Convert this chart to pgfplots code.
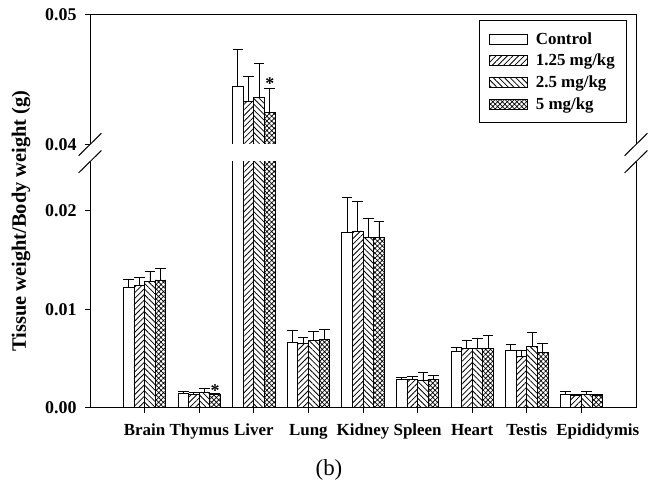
\documentclass[border=0pt]{standalone}
\usepackage{pgfplots}
\pgfplotsset{compat=1.18}
\usepackage{pgfplotstable}
\usepackage{fontspec}
\setmainfont{Liberation Serif}
\usetikzlibrary{patterns.meta}

\pgfplotstableread{
x  c       ce      a       ae      b       be      d       de
1  0.01220 0.00088 0.01240 0.00085 0.01280 0.00109 0.01298 0.00119
2  0.00146 0.00024 0.00136 0.00020 0.00160 0.00037 0.00136 0.00014
3  0.04445 0.00287 0.04335 0.00194 0.04360 0.00269 0.04248 0.00184
4  0.00660 0.00127 0.00650 0.00065 0.00680 0.00092 0.00691 0.00106
5  0.01778 0.00360 0.01796 0.00304 0.01728 0.00197 0.01728 0.00166
6  0.00292 0.00017 0.00288 0.00027 0.00282 0.00081 0.00288 0.00044
7  0.00569 0.00045 0.00604 0.00077 0.00604 0.00101 0.00604 0.00128
8  0.00586 0.00061 0.00525 0.00061 0.00620 0.00146 0.00563 0.00091
9  0.00136 0.00027 0.00126 0.00014 0.00139 0.00024 0.00122 0.00014
}\data

\pgfplotsset{
  area legend/.style={legend image code/.code={\draw[##1] (0bp,-5bp) rectangle (38bp,5bp); \path (44bp,0bp);}},
  mybar/.style={ybar, bar width=0.195, bar shift=0, draw=black, line width=0.8bp, area legend,
    /pgfplots/error bars/y dir=plus,
    /pgfplots/error bars/y explicit,
    /pgfplots/error bars/error bar style={line width=0.8bp, black, solid},
    /pgfplots/error bars/error mark options={rotate=90, mark size=5.3bp, line width=0.8bp, black}},
  common/.style={
    scale only axis, width=546bp,
    xmin=0, xmax=10,
    axis line style={draw=none},
    clip mode=individual,
    scaled y ticks=false,
    tick style={black, line width=1bp},
    major tick length=5bp,
    tick align=outside,
    ytick pos=left, xtick pos=bottom,
    ticklabel style={font=\fontsize{17}{20}\selectfont\bfseries},
    yticklabel style={font=\fontsize{18}{20}\selectfont\bfseries, xshift=-5bp},
  },
  pC/.style={mybar, fill=white},
  pA/.style={mybar, pattern={Lines[angle=45, distance=4bp, line width=0.8bp]}},
  pB/.style={mybar, pattern={Lines[angle=-45, distance=4bp, line width=0.8bp]}},
  pD/.style={mybar, pattern={Hatch[angle=45, distance=3.4bp, line width=0.7bp]}},
}

\begin{document}
\begin{tikzpicture}
\path[use as bounding box] (0,0) rectangle (649bp,484bp);

% lower axis
\begin{axis}[common,
  at={(90bp,76.3bp)}, anchor=south west,
  height=246bp,
  ymin=0, ymax=0.025,
  ytick={0,0.01,0.02}, yticklabels={0.00,0.01,0.02},
  xtick={1,...,9},
  xticklabels={Brain,Thymus,Liver,Lung,Kidney,Spleen,Heart,Testis,{\makebox[0pt][l]{\hspace{-25bp}Epididymis}}},
  xticklabel style={yshift=-8bp},
  after end axis/.code={
    \draw[line width=1bp] (rel axis cs:0,1) -- (rel axis cs:0,0) -- (rel axis cs:1,0) -- (rel axis cs:1,1);
    \draw[line width=1bp] ([shift={(-11.4bp,-11.2bp)}]rel axis cs:0,1) -- ([shift={(11.4bp,11.2bp)}]rel axis cs:0,1);
    \draw[line width=1bp] ([shift={(-11.4bp,-11.2bp)}]rel axis cs:1,1) -- ([shift={(11.4bp,11.2bp)}]rel axis cs:1,1);
  },
]
\addplot[pC] table[x expr=\thisrow{x}-0.2925, y=c, y error=ce]{\data};
\addplot[pA] table[x expr=\thisrow{x}-0.0975, y=a, y error=ae]{\data};
\addplot[pB] table[x expr=\thisrow{x}+0.0975, y=b, y error=be]{\data};
\addplot[pD] table[x expr=\thisrow{x}+0.2925, y=d, y error=de]{\data};
\addplot[draw=none, mark=none, nodes near coords={*},
  every node near coord/.append style={anchor=center, font=\fontsize{18}{20}\selectfont\bfseries}]
  coordinates {(2.2925,0.0017)};
\end{axis}

% upper axis
\begin{axis}[common,
  at={(90bp,339.5bp)}, anchor=south west,
  height=129.5bp,
  ymin=0.04, ymax=0.05,
  ytick={0.04,0.05}, yticklabels={0.04,0.05},
  xtick=\empty,
  restrict x to domain=2.5:3.5,
  legend style={at={(0.984,0.961)}, anchor=north east, draw=black, line width=0.8bp,
    font=\fontsize{17}{20}\selectfont\bfseries, row sep=4.5bp, inner xsep=10bp, inner ysep=10bp},
  legend cell align=left,
  after end axis/.code={
    \fill[white] ([yshift=-3bp]rel axis cs:0.05,0) rectangle ([yshift=0.45bp]rel axis cs:0.95,0);
    \draw[line width=1bp] (rel axis cs:0,0) -- (rel axis cs:0,1) -- (rel axis cs:1,1) -- (rel axis cs:1,0);
    \draw[line width=1bp] ([shift={(-11.4bp,-11.2bp)}]rel axis cs:0,0) -- ([shift={(11.4bp,11.2bp)}]rel axis cs:0,0);
    \draw[line width=1bp] ([shift={(-11.4bp,-11.2bp)}]rel axis cs:1,0) -- ([shift={(11.4bp,11.2bp)}]rel axis cs:1,0);
  },
]
\addplot[pC] table[x expr=\thisrow{x}-0.2925, y=c, y error=ce]{\data};
\addlegendentry{Control}
\addplot[pA] table[x expr=\thisrow{x}-0.0975, y=a, y error=ae]{\data};
\addlegendentry{1.25 mg/kg}
\addplot[pB] table[x expr=\thisrow{x}+0.0975, y=b, y error=be]{\data};
\addlegendentry{2.5 mg/kg}
\addplot[pD] table[x expr=\thisrow{x}+0.2925, y=d, y error=de]{\data};
\addlegendentry{5 mg/kg}
\addplot[draw=none, mark=none, forget plot, nodes near coords={*},
  every node near coord/.append style={anchor=center, font=\fontsize{18}{20}\selectfont\bfseries}]
  coordinates {(3.2925,0.04470)};
\end{axis}

\node[rotate=90, font=\fontsize{20.5}{24}\selectfont\bfseries] at (21bp,263bp) {Tissue weight/Body weight (g)};
\node[font=\fontsize{23}{26}\selectfont] at (329bp,14bp) {(b)};
\end{tikzpicture}
\end{document}
